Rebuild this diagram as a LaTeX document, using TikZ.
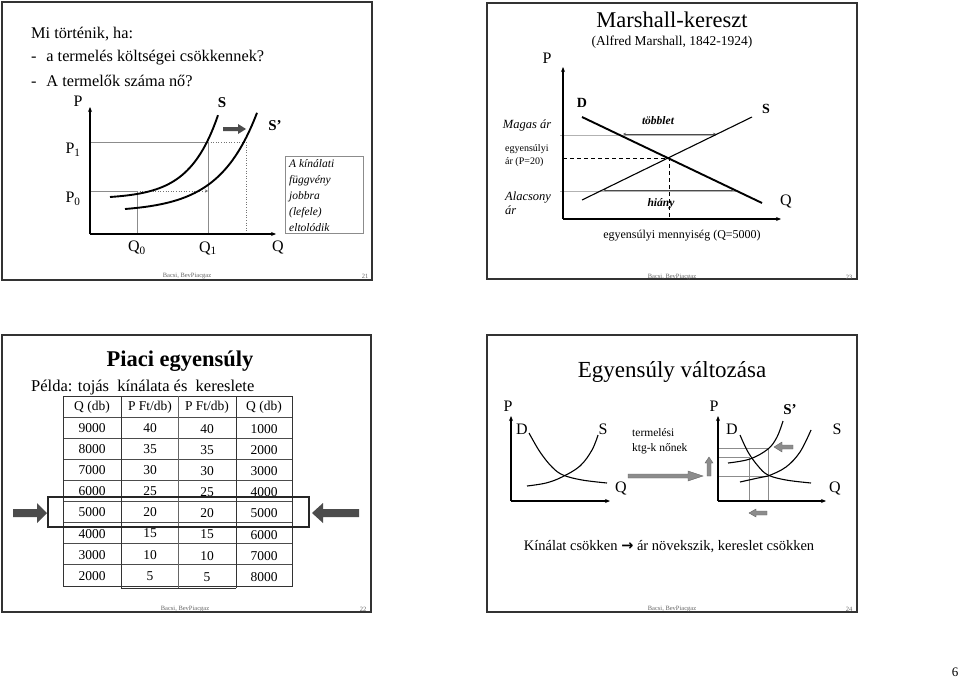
\documentclass[tikz,border=0pt]{standalone}
\usepackage{fontspec}
\setmainfont{Liberation Serif}
\newfontfamily\arrowfont{DejaVu Sans}
\usetikzlibrary{arrows.meta}
\tikzset{
  slide/.style={draw=black!80, line width=1.3pt},
  foot/.style={font=\fontsize{6.5}{7}\selectfont, text=black!60},
  axis/.style={-{Stealth[length=5pt,width=4pt]}, line width=1.1pt},
  curve/.style={line width=1.9pt},
  thincurve/.style={line width=1.1pt},
  guide/.style={draw=black!45, line width=0.6pt},
  dotguide/.style={draw=black!55, line width=0.6pt, dotted},
  lbl/.style={font=\fontsize{16}{18}\selectfont, inner sep=0pt},
  blockarrow/.style={fill=black!70, draw=none},
  greyarrow/.style={fill=black!45, draw=black!60, line width=0.4pt},
  dbl/.style={{Stealth[length=3pt,width=2.5pt]}-{Stealth[length=3pt,width=2.5pt]}, line width=0.6pt, draw=black!70},
  cell/.style={font=\fontsize{13.5}{15}\selectfont, inner sep=0pt}
}
\begin{document}
\begin{tikzpicture}[x=1pt,y=-1pt]
\useasboundingbox[fill=white] (0,0) rectangle (960,682);

% ================= Slide 1 =================
\draw[slide] (2,2) rectangle (372,280);
\node[anchor=west, font=\fontsize{16.3}{19}\selectfont, inner sep=0pt] (t1a) at (31,34) {Mi történik, ha:};
\node[anchor=west, font=\fontsize{16.3}{19}\selectfont, inner sep=0pt] (t1b) at (31,58) {-\hspace{0.6em}a termelés költségei csökkennek?};
\node[anchor=west, font=\fontsize{16.3}{19}\selectfont, inner sep=0pt] (t1c) at (31,81) {-\hspace{0.6em}A termelők száma nő?};

\coordinate (o1) at (90,234);
\coordinate (y1) at (90,107);
\coordinate (x1) at (276,234);
% guides
\draw[guide] (90,142) -- (208,142);
\draw[dotguide] (208,142) -- (246,142);
\draw[guide] (90,191) -- (137,191);
\draw[dotguide, -{Stealth[length=3pt,width=3pt]}] (137,191) -- (208,191);
\draw[guide] (137,191) -- (137,234);
\draw[guide] (208,142) -- (208,234);
\draw[dotguide] (246,142) -- (246,234);
\draw[axis] (o1) -- (y1);
\draw[axis] (o1) -- (x1);
\draw[curve] plot[domain=110:218, samples=50] (\x, {234-35.1-1.91*exp(0.035*(\x-110))});
\draw[curve] plot[domain=125:257, samples=50] (\x, {234-22-3.0*exp(0.0265*(\x-125))});
\fill[blockarrow] (223,127) -- (238,127) -- (238,124) -- (246,129) -- (238,134) -- (238,131) -- (223,131) -- cycle;
\node[lbl] (P1lab) at (78,101) {P};
\node[lbl, font=\fontsize{15}{17}\bfseries] (S1lab) at (222,103) {S};
\node[lbl, font=\fontsize{15}{17}\bfseries] (S1plab) at (275,126) {S’};
\node[lbl] (P1) at (73,150) {P\textsubscript{1}};
\node[lbl] (P0) at (73,199) {P\textsubscript{0}};
\node[lbl] (Q0) at (137,248) {Q\textsubscript{0}};
\node[lbl] (Q1) at (208,248) {Q\textsubscript{1}};
\node[lbl] (Qlab1) at (278,247) {Q};
\draw[draw=black!45, line width=0.7pt] (285,156) rectangle (363,233);
\node[anchor=north west, font=\fontsize{11.5}{16}\selectfont\itshape, align=left, inner sep=0pt] (box1) at (289,159) {A kínálati\\függvény\\jobbra\\(lefele)\\eltolódik};
\node[foot] (f1) at (187,276) {Bacsi, BevPiacgaz};
\node[foot] (n1) at (365,276) {21};

% ================= Slide 2 =================
\draw[slide] (487,3) rectangle (857,279);
\node[font=\fontsize{22.5}{25}\selectfont, inner sep=0pt] (t2) at (672,20) {Marshall-kereszt};
\node[font=\fontsize{13.5}{15}\selectfont, inner sep=0pt] (t2b) at (672,42) {(Alfred Marshall, 1842-1924)};
\coordinate (o2) at (563,219);
\draw[draw=black!30, line width=0.6pt] (560,135) -- (716,135);
\draw[draw=black!30, line width=0.6pt] (560,191) -- (736,191);
\draw[dbl] (623,134) -- (716,134);
\draw[dbl] (603,190) -- (734,190);
\draw[dashed, line width=0.9pt, dash pattern=on 4pt off 3pt] (563,158) -- (669,158) -- (669,219);
\draw[axis] (o2) -- (563,67);
\draw[axis] (o2) -- (781,219);
\draw[line width=1.9pt] (582,117) -- (762,203);
\draw[line width=1.1pt] (582,200) -- (752,117);
\node[lbl] (P2lab) at (547,58) {P};
\node[lbl] (Q2lab) at (786,201) {Q};
\node[lbl, font=\fontsize{14}{16}\bfseries] (D2) at (582,103) {D};
\node[lbl, font=\fontsize{14}{16}\bfseries] (S2) at (766,109) {S};
\node[font=\fontsize{11.5}{13}\bfseries\itshape, inner sep=0pt] (tobb) at (658,121) {többlet};
\node[font=\fontsize{11.5}{13}\bfseries\itshape, inner sep=0pt] (hiany) at (661,204) {hiány};
\node[font=\fontsize{12.5}{14}\itshape, inner sep=0pt] (magas) at (527,125) {Magas ár};
\node[anchor=west, font=\fontsize{10}{13}\selectfont, align=left, inner sep=0pt] (egy) at (505,156) {egyensúlyi\\ár (P=20)};
\node[anchor=west, font=\fontsize{12.5}{14.5}\itshape, align=left, inner sep=0pt] (alac) at (505,203) {Alacsony\\ár};
\node[font=\fontsize{12}{13}\selectfont, inner sep=0pt] (egym) at (682,236) {egyensúlyi mennyiség (Q=5000)};
\node[foot] (f2) at (672,277) {Bacsi, BevPiacgaz};
\node[foot] (n2) at (849,277) {23};

% ================= Slide 3 =================
\draw[slide] (2,335) rectangle (371,612);
\node[font=\fontsize{22.5}{25}\bfseries, inner sep=0pt] (t3) at (180,361) {Piaci egyensúly};
\node[anchor=west, font=\fontsize{16.5}{18}\selectfont, inner sep=0pt] (pel) at (31,388) {Példa: tojás\ \ kínálata és\ \ kereslete};
% table grid
\foreach \k in {0,...,9} {
  \draw[draw=black!70, line width=0.7pt] (63,{396+21.1*\k}) -- (292,{396+21.1*\k});
}
\draw[draw=black!80, line width=0.9pt] (63,396) rectangle (292,586);
\draw[draw=black!80, line width=0.9pt] (121,396) -- (121,588);
\draw[draw=black!60, line width=0.7pt] (178,396) -- (178,588);
\draw[draw=black!80, line width=0.9pt] (236,396) -- (236,588);
\draw[draw=black!80, line width=0.9pt] (121,588) -- (236,588);
\node[cell] (h1) at (92,407) {Q (db)};
\node[cell] (h2) at (150,407) {P Ft/db)};
\node[cell] (h3) at (207,407) {P Ft/db)};
\node[cell] (h4) at (264,407) {Q (db)};
\foreach \a/\b/\c [count=\i] in {9000/40/1000,8000/35/2000,7000/30/3000,6000/25/4000,5000/20/5000,4000/15/6000,3000/10/7000,2000/5/8000} {
  \node[cell] (ca\i) at (92,{407+21.1*\i}) {\a};
  \node[cell] (cb\i) at (150,{407+21.1*\i}) {\b};
  \node[cell] (cc\i) at (207,{408+21.1*\i}) {\b};
  \node[cell] (cd\i) at (264,{408+21.1*\i}) {\c};
}
\draw[line width=1.6pt, draw=black!85] (48,497) rectangle (309,527);
\fill[blockarrow] (13,509) -- (37,509) -- (37,503) -- (47,513) -- (37,523) -- (37,517) -- (13,517) -- cycle;
\fill[blockarrow] (359,509) -- (323,509) -- (323,503) -- (312,513) -- (323,523) -- (323,517) -- (359,517) -- cycle;
\node[foot] (f3) at (185,609) {Bacsi, BevPiacgaz};
\node[foot] (n3) at (363,609) {22};

% ================= Slide 4 =================
\draw[slide] (487,335) rectangle (857,612);
\node[font=\fontsize{23}{26}\selectfont, inner sep=0pt] (t4) at (672,372) {Egyensúly változása};
% left graph
\draw[axis] (511,501) -- (511,416);
\draw[axis] (511,501) -- (610,501);
\draw[thincurve] plot[smooth, tension=0.6] coordinates {(529,433) (540,452) (552,467) (563,475) (582,480) (607,483)};
\draw[thincurve] plot[smooth, tension=0.6] coordinates {(527,486) (546,483) (562,477) (580,466) (592,450) (598,435)};
\node[lbl] (P4a) at (508,406) {P};
\node[lbl] (D4a) at (522,429) {D};
\node[lbl] (S4a) at (603,429) {S};
\node[lbl] (Q4a) at (621,488) {Q};
\node[anchor=west, font=\fontsize{11.5}{15}\selectfont, align=left, inner sep=0pt] (ktg) at (632,441) {termelési\\ktg-k nőnek};
\fill[greyarrow] (628,474) -- (688,474) -- (688,471) -- (703,476) -- (688,481) -- (688,478) -- (628,478) -- cycle;
\fill[greyarrow] (707,476) -- (707,463) -- (705,463) -- (709,457) -- (713,463) -- (711,463) -- (711,476) -- cycle;
% right graph
\draw[guide] (718,448) -- (768,448);
\draw[guide] (718,457) -- (749,457);
\draw[guide] (718,476) -- (768,476);
\draw[guide] (749,457) -- (749,501);
\draw[guide] (768,448) -- (768,501);
\draw[axis] (718,501) -- (718,416);
\draw[axis] (718,501) -- (826,501);
\draw[thincurve] plot[smooth, tension=0.6] coordinates {(740,435) (748,452) (758,466) (768,475) (786,480) (811,483)};
\draw[thincurve] plot[smooth, tension=0.6] coordinates {(740,482) (758,478) (768,476) (786,467) (800,452) (811,430)};
\draw[thincurve] plot[smooth, tension=0.6] coordinates {(728,463) (750,459) (768,449) (777,437) (783,421)};
\fill[greyarrow] (793,445) -- (782,445) -- (782,442) -- (774,447) -- (782,452) -- (782,449) -- (793,449) -- cycle;
\fill[greyarrow] (767,511) -- (756,511) -- (756,509) -- (749,513) -- (756,517) -- (756,515) -- (767,515) -- cycle;
\node[lbl] (P4b) at (714,406) {P};
\node[lbl, font=\fontsize{15}{17}\bfseries] (S4p) at (790,410) {S’};
\node[lbl] (D4b) at (732,429) {D};
\node[lbl] (S4b) at (837,429) {S};
\node[lbl] (Q4b) at (835,488) {Q};
\node[font=\fontsize{14.5}{16}\selectfont, inner sep=0pt] (kin) at (669,547) {Kínálat csökken {\arrowfont\bfseries →} ár növekszik, kereslet csökken};
\node[foot] (f4) at (672,609) {Bacsi, BevPiacgaz};
\node[foot] (n4) at (849,609) {24};

\node[font=\fontsize{13}{15}\selectfont, inner sep=0pt] (pg) at (955,672) {6};
\end{tikzpicture}
\end{document}
